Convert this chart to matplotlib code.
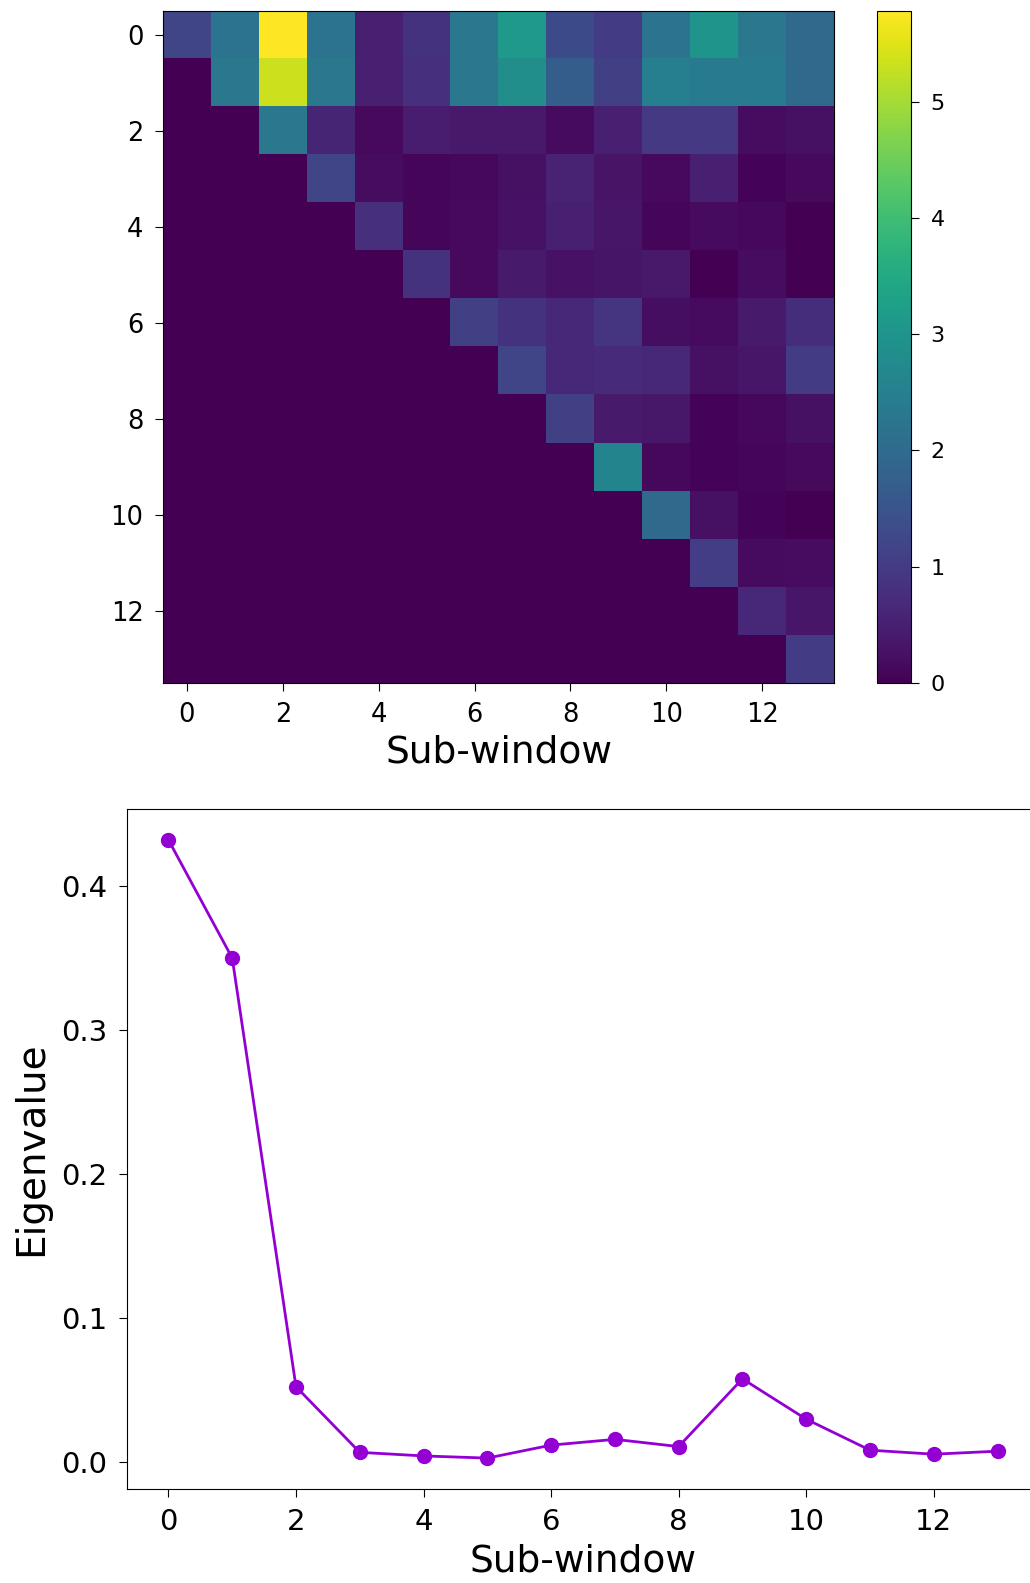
import numpy as np
import matplotlib
matplotlib.use("Agg")
import matplotlib.pyplot as plt

# Upper-triangular matrix rows (row i holds columns i..13); lower triangle is zero
row0 = [1.2, 2.2, 5.78, 2.2, 0.5, 0.85, 2.3, 3.1, 1.3, 1.0, 2.2, 3.0, 2.3, 2.0]
row1 = [2.3, 5.35, 2.3, 0.5, 0.8, 2.3, 2.85, 1.7, 1.1, 2.5, 2.4, 2.4, 2.0]
row2 = [2.3, 0.6, 0.15, 0.45, 0.4, 0.4, 0.18, 0.5, 0.95, 0.95, 0.2, 0.25]
row3 = [1.2, 0.2, 0.08, 0.12, 0.25, 0.55, 0.3, 0.15, 0.5, 0.05, 0.15]
row4 = [0.8, 0.1, 0.15, 0.28, 0.5, 0.35, 0.1, 0.17, 0.12, 0.02]
row5 = [0.85, 0.15, 0.42, 0.28, 0.33, 0.4, 0.0, 0.2, 0.0]
row6 = [1.1, 0.85, 0.65, 0.9, 0.22, 0.18, 0.42, 0.75]
row7 = [1.2, 0.65, 0.7, 0.65, 0.25, 0.35, 1.0]
row8 = [1.1, 0.42, 0.38, 0.05, 0.12, 0.25]
row9 = [2.6, 0.12, 0.05, 0.1, 0.15]
row10 = [2.0, 0.25, 0.05, 0.02]
row11 = [1.05, 0.17, 0.2]
row12 = [0.65, 0.35]
row13 = [1.0]
upper_rows = [row0, row1, row2, row3, row4, row5, row6, row7,
              row8, row9, row10, row11, row12, row13]

# Eigenvalue per sub-window
sub_windows = list(range(14))
eigenvalues = [0.432, 0.350, 0.0525, 0.007, 0.0045, 0.003, 0.012,
               0.016, 0.011, 0.058, 0.030, 0.0085, 0.0057, 0.0078]

n = len(upper_rows)
M = np.zeros((n, n))
for i, r in enumerate(upper_rows):
    M[i, i:] = r

W, H = 1030, 1583
fig = plt.figure(figsize=(W / 100, H / 100), dpi=100)

ax1 = fig.add_axes([163 / W, 1 - 683 / H, 671 / W, 672 / H])
im = ax1.imshow(M, cmap="viridis", vmin=0, vmax=5.78, aspect="auto")
ax1.set_xticks(range(0, 14, 2))
ax1.set_yticks(range(0, 14, 2))
ax1.tick_params(labelsize=18.5, length=6, pad=8)
ax1.set_xlabel("Sub-window", fontsize=27, labelpad=4)

cax = fig.add_axes([877 / W, 1 - 683 / H, 34 / W, 672 / H])
cb = fig.colorbar(im, cax=cax)
cb.set_ticks([0, 1, 2, 3, 4, 5])
cb.ax.tick_params(labelsize=16, length=6, pad=8)

ax2 = fig.add_axes([127 / W, 1 - 1489 / H, 912 / W, 680 / H])
ax2.plot(sub_windows, eigenvalues, color="#9400D3", marker="o",
         markersize=10, linewidth=2)
ax2.set_xticks(range(0, 14, 2))
ax2.set_yticks([0.0, 0.1, 0.2, 0.3, 0.4])
ax2.tick_params(labelsize=21, length=6, pad=8)
ax2.set_xlabel("Sub-window", fontsize=27, labelpad=5)
ax2.set_ylabel("Eigenvalue", fontsize=28, labelpad=8)

fig.savefig("out.png", dpi=100)
